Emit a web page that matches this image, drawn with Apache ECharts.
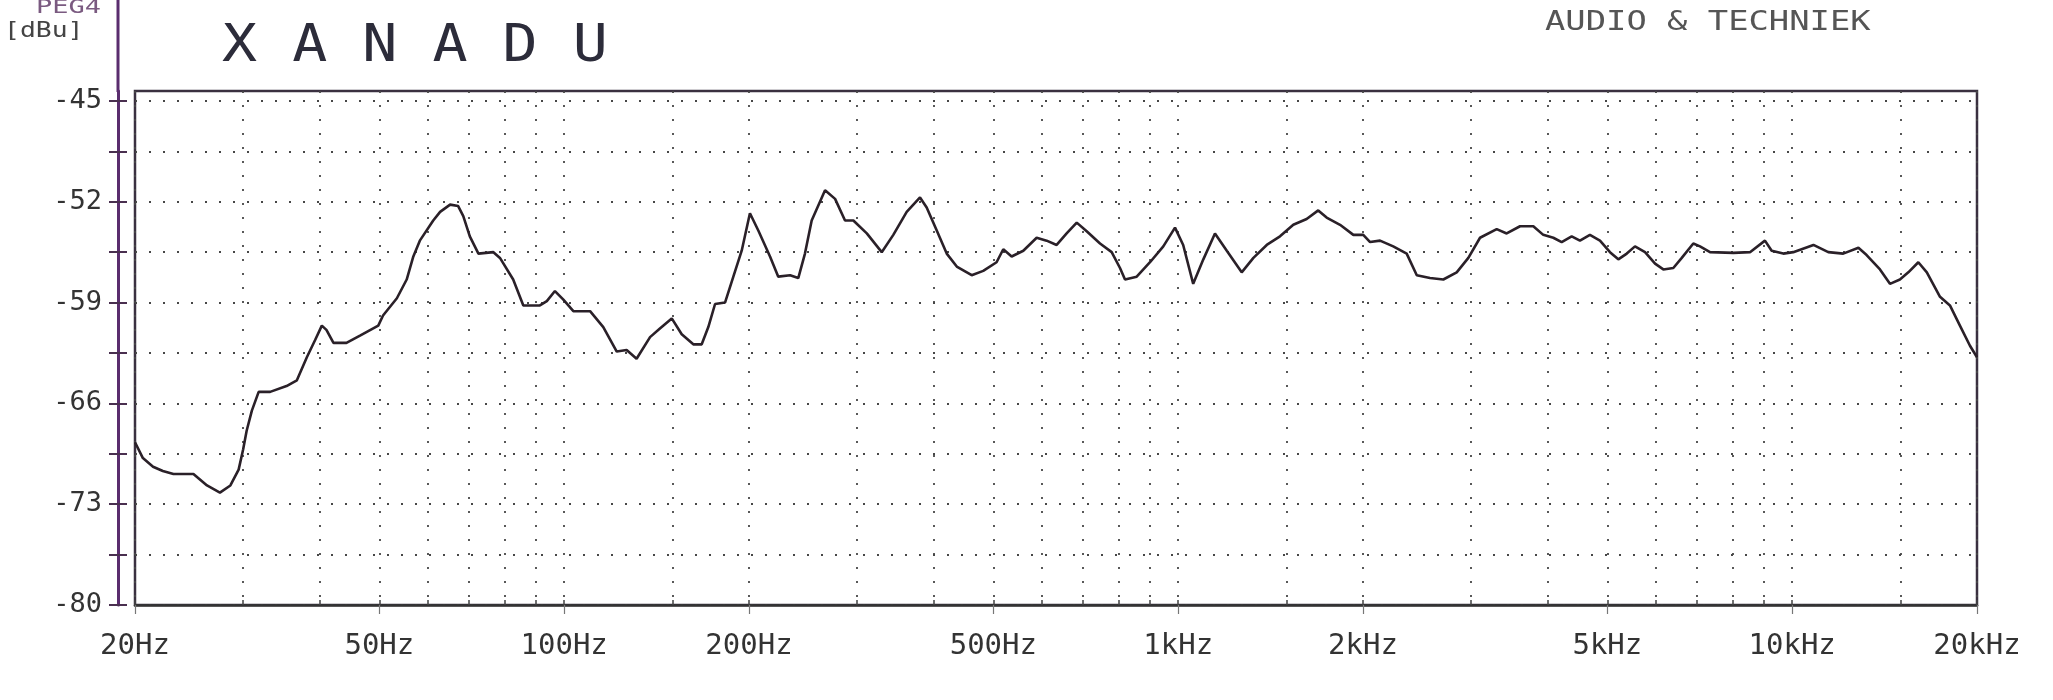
<!DOCTYPE html>
<html><head><meta charset="utf-8">
<script src="https://cdn.jsdelivr.net/npm/echarts@6/dist/echarts.min.js"></script>
<style>html,body{margin:0;padding:0;background:#fff}#c{width:2053px;height:700px}</style>
</head><body><div id="c"></div>
<script>
// Frequency (Hz) of each read point
const freqs = [20, 20.6, 21.4, 22.2, 23.1, 24.9, 26.2, 27.5, 28.6, 29.5, 30.0, 30.4, 31.0, 31.8, 33.2, 35.3, 36.7, 38.1, 39.3, 40.3, 41.0, 42.1, 44.2, 46.5, 49.8, 50.7, 53.4, 55.4, 56.8, 58.2, 61.2, 62.8, 65.2, 67.2, 68.5, 70.2, 72.5, 76.7, 78.6, 82.6, 85.8, 91.3, 93.7, 96.6, 99.7, 103.5, 110.2, 115.8, 121.8, 126.4, 131.2, 138.0, 143.2, 149.7, 155.4, 162.3, 167.5, 171.7, 176.1, 182.8, 188.6, 194.6, 200.7, 207.1, 216.4, 223.2, 233.3, 240.6, 246.7, 253.0, 266.0, 276.2, 286.7, 295.8, 311.1, 329.0, 343.6, 361.3, 379.8, 389.4, 404.4, 419.8, 435.9, 461.0, 481.4, 506.1, 519.0, 535.5, 559.5, 588.2, 610.6, 634.0, 658.2, 683.6, 709.6, 746.0, 779.3, 804.0, 819.3, 856.0, 899.8, 945.8, 988.2, 1019, 1058, 1099, 1148, 1200, 1269, 1326, 1394, 1465, 1540, 1619, 1691, 1745, 1835, 1929, 2002, 2054, 2132, 2240, 2356, 2447, 2571, 2703, 2842, 2969, 3102, 3302, 3428, 3604, 3788, 3932, 4083, 4213, 4374, 4512, 4684, 4864, 5050, 5210, 5378, 5546, 5759, 5980, 6168, 6404, 6610, 6902, 7078, 7348, 8021, 8537, 9030, 9260, 9672, 10040, 10830, 11450, 12110, 12820, 13220, 13900, 14430, 14980, 15460, 16050, 16570, 17410, 18070, 18760, 19480, 20000];
// Level (dBu) at each frequency
const levels = [-68.7, -69.8, -70.4, -70.7, -70.9, -70.9, -71.7, -72.2, -71.7, -70.6, -69.2, -67.9, -66.5, -65.2, -65.2, -64.8, -64.4, -62.8, -61.6, -60.6, -60.9, -61.8, -61.8, -61.3, -60.6, -59.9, -58.7, -57.4, -55.8, -54.7, -53.3, -52.7, -52.2, -52.3, -53.0, -54.4, -55.6, -55.5, -55.9, -57.4, -59.2, -59.2, -58.9, -58.2, -58.8, -59.6, -59.6, -60.7, -62.4, -62.3, -62.9, -61.4, -60.8, -60.1, -61.2, -61.9, -61.9, -60.7, -59.1, -59.0, -57.2, -55.4, -52.8, -54.0, -55.8, -57.2, -57.1, -57.3, -55.6, -53.3, -51.2, -51.8, -53.3, -53.3, -54.2, -55.5, -54.3, -52.7, -51.7, -52.4, -54.0, -55.6, -56.5, -57.1, -56.8, -56.2, -55.3, -55.8, -55.4, -54.5, -54.7, -55.0, -54.2, -53.45, -54.05, -54.9, -55.5, -56.6, -57.4, -57.2, -56.2, -55.1, -53.8, -55.0, -57.7, -56.0, -54.2, -55.4, -56.9, -55.9, -55.0, -54.4, -53.6, -53.2, -52.6, -53.1, -53.6, -54.3, -54.3, -54.8, -54.7, -55.1, -55.6, -57.1, -57.3, -57.4, -56.9, -55.9, -54.5, -53.9, -54.2, -53.7, -53.7, -54.3, -54.5, -54.8, -54.4, -54.7, -54.3, -54.7, -55.5, -56.0, -55.6, -55.1, -55.5, -56.3, -56.7, -56.6, -55.9, -54.9, -55.1, -55.5, -55.55, -55.5, -54.7, -55.4, -55.6, -55.5, -55.0, -55.5, -55.6, -55.2, -55.7, -56.7, -57.7, -57.4, -56.9, -56.2, -56.9, -58.6, -59.2, -60.6, -62.0, -62.8];
// Axis ticks and labels
const yTicks = [-80, -76.5, -73, -69.5, -66, -62.5, -59, -55.5, -52, -48.5, -45];
const yLabels = [-80, -73, -66, -59, -52, -45];
const xGrid = [20, 30, 40, 50, 60, 70, 80, 90, 100, 150, 200, 300, 400, 500, 600, 700, 800, 900, 1000, 1500, 2000, 3000, 4000, 5000, 6000, 7000, 8000, 9000, 10000, 15000, 20000];
const xLabels = [20, 50, 100, 200, 500, 1000, 2000, 5000, 10000, 20000];

const fmtHz = v => v >= 1000 ? (v / 1000) + 'kHz' : v + 'Hz';
const MONO = '"DejaVu Sans Mono", "Liberation Mono", monospace';
const dotted = { type: [2, 12], color: '#474747', width: 1.8 };

const chart = echarts.init(document.getElementById('c'), null, { renderer: 'canvas' });
chart.setOption({
  animation: false,
  backgroundColor: '#ffffff',
  grid: { left: 135, right: 76, top: 91, bottom: 95, show: true, borderColor: '#3a3040', borderWidth: 2.5, outerBoundsMode: 'none' },
  xAxis: [{
    type: 'log', logBase: 10, min: 20, max: 20000, position: 'bottom',
    axisLine: { show: true, lineStyle: { color: '#333', width: 2.5 } },
    axisTick: { show: true, inside: true, length: 5, customValues: xGrid, lineStyle: { color: '#444', width: 1.5 } },
    axisLabel: { show: true, customValues: xLabels, formatter: fmtHz, margin: 27, fontFamily: MONO, fontSize: 29, color: '#333' },
    splitLine: { show: true, lineStyle: dotted },
    minorTick: { show: false }, minorSplitLine: { show: false }
  }, {
    type: 'log', logBase: 10, min: 20, max: 20000, position: 'bottom',
    axisLine: { show: false },
    axisTick: { show: true, inside: false, length: 9, customValues: xLabels, lineStyle: { color: '#777', width: 1.2 } },
    axisLabel: { show: false }, splitLine: { show: false }
  }],
  yAxis: [{
    type: 'value', min: -80, max: -44.31, position: 'left', offset: 17,
    axisLine: { show: true, lineStyle: { color: '#5a2d6e', width: 3 } },
    axisTick: { show: true, inside: false, length: 9, customValues: yTicks, lineStyle: { color: '#4a3050', width: 2 } },
    axisLabel: { show: true, customValues: yLabels, margin: 16, fontFamily: MONO, fontSize: 27, color: '#333' },
    splitLine: { show: true, lineStyle: dotted }
  }, {
    type: 'value', min: -80, max: -44.31, position: 'left', offset: 17,
    axisLine: { show: false },
    axisTick: { show: true, inside: true, length: 9, customValues: yTicks, lineStyle: { color: '#4a3050', width: 2 } },
    axisLabel: { show: false }, splitLine: { show: false }
  }],
  series: [{
    type: 'line', xAxisIndex: 0, yAxisIndex: 0,
    data: freqs.map((f, i) => [f, levels[i]]),
    showSymbol: false, smooth: false,
    lineStyle: { color: '#2a2028', width: 2.6 }
  }],
  graphic: [
    { type: 'line', shape: { x1: 118, y1: 0, x2: 118, y2: 92 }, style: { stroke: '#5a2d6e', lineWidth: 3 }, z: 5 },
    { type: 'text', x: 36, y: 8, scaleX: 1.35, style: { text: 'PEG4', font: '20px ' + MONO, fill: '#7a5a80', textVerticalAlign: 'middle' } },
    { type: 'text', x: 4, y: 31, scaleX: 1.2, style: { text: '[dBu]', font: '22px ' + MONO, fill: '#444', textVerticalAlign: 'middle' } },
    { type: 'text', x: 222, y: 47, scaleX: 1.12, style: { text: 'X A N A D U', font: '52px ' + MONO, fill: '#2c2c3a', textVerticalAlign: 'middle' } },
    { type: 'text', x: 1545, y: 23, scaleX: 1.3, style: { text: 'AUDIO & TECHNIEK', font: '26px ' + MONO, fill: '#555', textVerticalAlign: 'middle' } }
  ]
});
</script>
</body></html>
